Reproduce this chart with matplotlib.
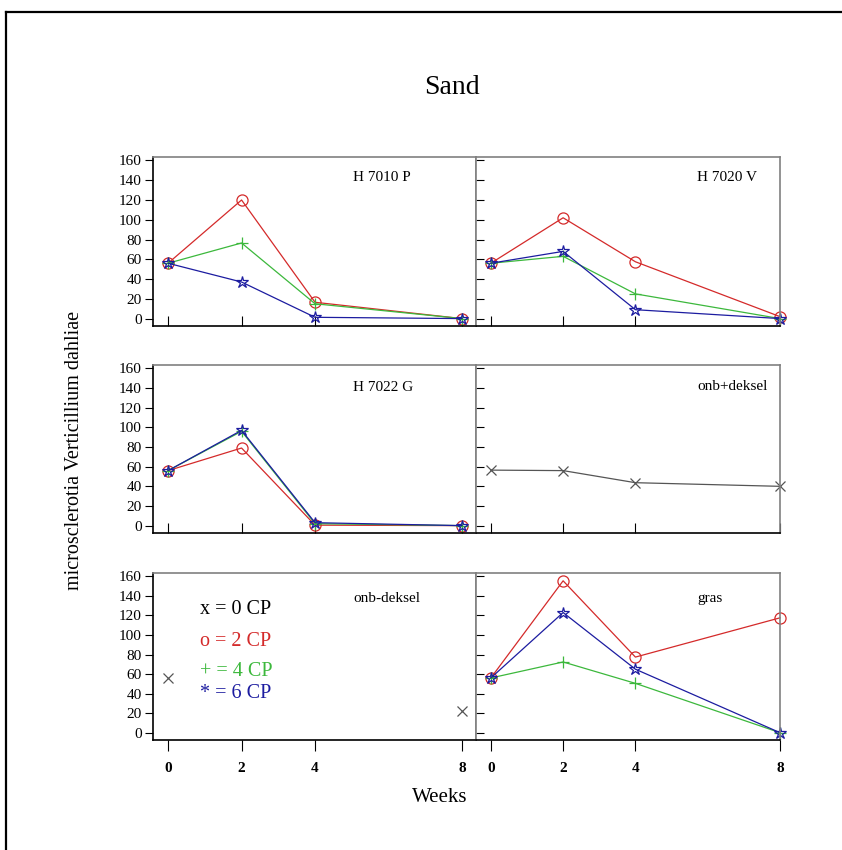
import numpy as np
import matplotlib.pyplot as plt
from matplotlib.lines import Line2D

plt.rcParams['font.family'] = ['Liberation Serif', 'DejaVu Serif']

weeks = [0, 2, 4, 8]

# microsclerotia per treatment (0, 2, 4, 6 CP)
h7010p_2cp = [56, 120, 16.5, 0]
h7010p_4cp = [56, 76.5, 15, 0]
h7010p_6cp = [56, 37, 1.3, 0]

h7020v_2cp = [56, 102, 57.5, 2]
h7020v_4cp = [56, 63, 25, 0]
h7020v_6cp = [56, 68, 9, 0]

h7022g_2cp = [56, 79, 0.5, 0]
h7022g_4cp = [56, 96, 2, 0]
h7022g_6cp = [56, 97, 3, 0]

onb_plus_0cp = [56.5, 56, 43.7, 40]

onb_min_weeks = [0, 8]
onb_min_0cp = [55.6, 21.8]

gras_2cp = [56, 155.5, 77.4, 117.6]
gras_4cp = [56, 72.4, 50.5, 0]
gras_6cp = [56, 123, 65, 0]

panel_titles = ['H 7010 P', 'H 7020 V', 'H 7022 G', 'onb+deksel', 'onb-deksel', 'gras']
yticks = [0, 20, 40, 60, 80, 100, 120, 140, 160]

RED = '#d42a2a'
GREEN = '#3cb83c'
BLUE = '#1c1ca0'
GRAY = '#555555'

W, H = 842, 850
fig = plt.figure(figsize=(W / 100, H / 100), dpi=100)


def px_axes(x0, y0, x1, y1):
    return fig.add_axes([x0 / W, 1 - y1 / H, (x1 - x0) / W, (y1 - y0) / H])


cols = [(153, 476), (476, 780)]
rows = [(157, 326), (365, 533), (573, 740)]

axes = []
for r, (y0, y1) in enumerate(rows):
    for c, (x0, x1) in enumerate(cols):
        ax = px_axes(x0, y0, x1, y1)
        ax.set_ylim(-7.5, 163.5)
        ax.set_xlim(-0.41, 8.38 if c == 0 else 7.92)
        ax.set_xticks(weeks)
        ax.set_yticks(yticks)
        for s in ['top', 'right']:
            ax.spines[s].set_color('#808080')
        ax.spines['bottom'].set_color('black')
        ax.spines['left'].set_color('black' if c == 0 else '#808080')
        for s in ax.spines.values():
            s.set_linewidth(1.2)
        if c == 0:
            ax.tick_params(axis='y', direction='out', length=6, labelsize=11, pad=2)
        else:
            ax.tick_params(axis='y', direction='in', length=6, labelleft=False)
        if r == 2:
            ax.tick_params(axis='x', direction='out', length=8, labelsize=11, pad=8)
            for lab in ax.get_xticklabels():
                lab.set_fontweight('bold')
        else:
            ax.tick_params(axis='x', direction='in', length=7, labelbottom=False)
        axes.append(ax)

lk = dict(lw=0.9, mfc='none', mew=0.9, clip_on=False)


def three_series(ax, s2, s4, s6):
    ax.plot(weeks, s2, color=RED, marker='o', ms=8, **lk)
    ax.plot(weeks, s4, color=GREEN, marker='+', ms=9, **lk)
    ax.plot(weeks, s6, color=BLUE, marker='*', ms=9, **lk)


three_series(axes[0], h7010p_2cp, h7010p_4cp, h7010p_6cp)
three_series(axes[1], h7020v_2cp, h7020v_4cp, h7020v_6cp)
three_series(axes[2], h7022g_2cp, h7022g_4cp, h7022g_6cp)
axes[3].plot(weeks, onb_plus_0cp, color=GRAY, marker='x', ms=6.5, **lk)
axes[4].plot(onb_min_weeks, onb_min_0cp, color=GRAY, marker='x', ms=6.5, ls='none', **lk)
three_series(axes[5], gras_2cp, gras_4cp, gras_6cp)

# panel names
label_pos = [(0.62, 0.88), (0.727, 0.88), (0.62, 0.864),
             (0.727, 0.87), (0.62, 0.85), (0.727, 0.85)]
for ax, name, (lx, ly) in zip(axes, panel_titles, label_pos):
    ax.text(lx, ly, name, transform=ax.transAxes, ha='left', va='center', fontsize=11)

# legend text in the onb-deksel panel
legend_items = [('x = 0 CP', 'black'), ('o = 2 CP', RED), ('+ = 4 CP', GREEN), ('* = 6 CP', BLUE)]
legend_y = [610, 641, 671, 693]
for (txt, col), ly in zip(legend_items, legend_y):
    fig.text(200 / W, 1 - ly / H, txt, color=col, fontsize=14.5, ha='left', va='center')

fig.text(452 / W, 1 - 87 / H, 'Sand', fontsize=20, ha='center', va='center')
fig.text(440 / W, 1 - 798 / H, 'Weeks', fontsize=15, ha='center', va='center')
fig.text(75 / W, 1 - 450 / H, 'microsclerotia Verticillium dahliae', fontsize=14.5,
         rotation=90, ha='center', va='center')

# outer frame (top and left edges)
fig.add_artist(Line2D([6 / W, 1], [1 - 12 / H, 1 - 12 / H], color='black', lw=1.6,
                      transform=fig.transFigure))
fig.add_artist(Line2D([6 / W, 6 / W], [0, 1 - 12 / H], color='black', lw=1.6,
                      transform=fig.transFigure))

fig.savefig('out.png', dpi=100)
